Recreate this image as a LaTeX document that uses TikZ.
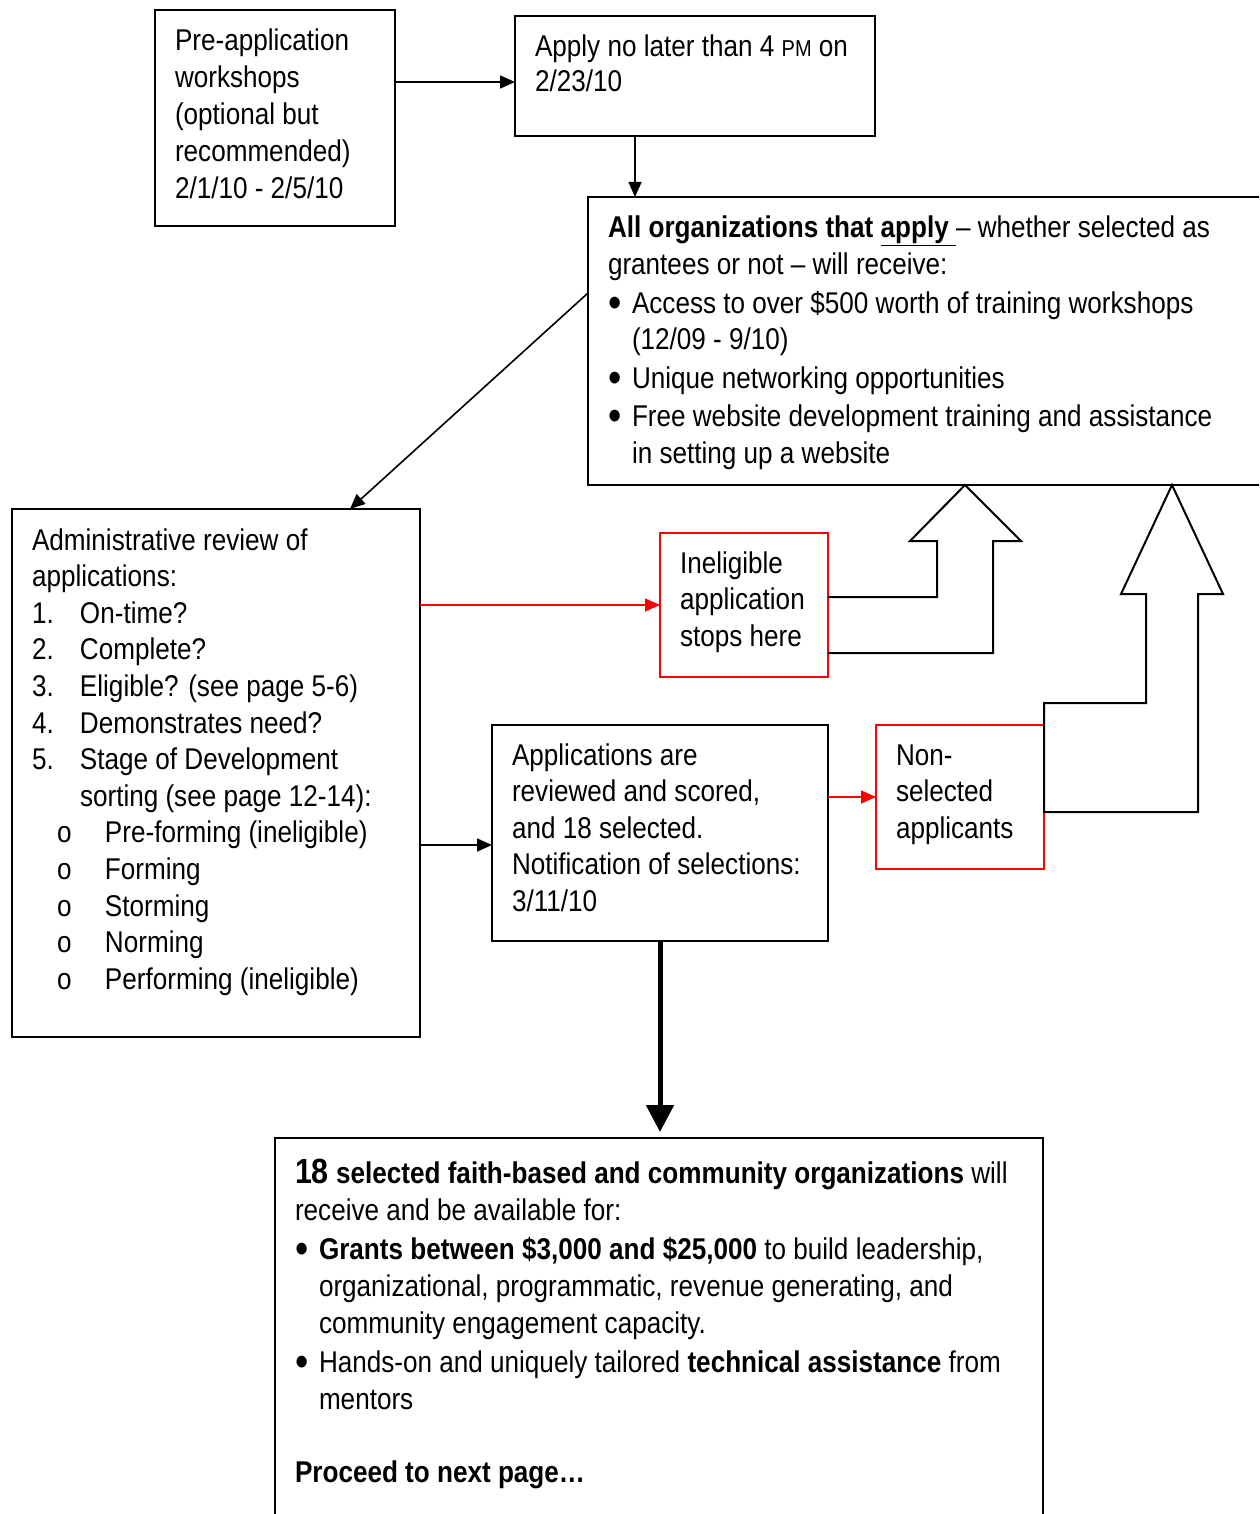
\documentclass[tikz,border=0pt]{standalone}
\usepackage{fontspec}
\setmainfont[FakeStretch=0.87]{Liberation Sans}
\usetikzlibrary{arrows.meta,calc}
\newcommand\fsz[1]{\fontsize{30}{#1}\selectfont}
\newcommand\bul{\makebox[24pt][l]{\smash{\raisebox{-4pt}{\scalebox{1.45}{\textbullet}}}}}
\newcommand\num[1]{\makebox[48pt][l]{#1}}
\newcommand\sub{\hspace*{25pt}\makebox[48pt][l]{o}}
\begin{document}
\begin{tikzpicture}[x=1pt,y=-1pt,
  box/.style={draw=black, line width=2pt, inner sep=0pt, outer sep=0pt, anchor=north west},
  rbox/.style={box, draw=red},
  txt/.style={anchor=base west, inner sep=0pt, outer sep=0pt},
  arr/.style={-{Triangle[length=15pt,width=13pt]}, line width=1.6pt},
  rarr/.style={arr, draw=red, fill=red},
  thick arr/.style={-{Triangle[length=27pt,width=27pt]}, line width=5pt},
  hol/.style={draw=black, line width=2pt, line join=miter}]
\clip (0,0) rectangle (1259,1514);
\fill[white] (0,0) rectangle (1259,1514);

% boxes
\node[box, minimum width=240pt, minimum height=216pt] (b1) at (155,10) {};
\node[box, minimum width=360pt, minimum height=120pt] (b2) at (515,16) {};
\node[box, minimum width=682pt, minimum height=288pt] (b3) at (588,197) {};
\node[box, minimum width=408pt, minimum height=528pt] (b4) at (12,509) {};
\node[rbox, minimum width=168pt, minimum height=144pt] (b5) at (660,533) {};
\node[box, minimum width=336pt, minimum height=216pt] (b6) at (492,725) {};
\node[rbox, minimum width=168pt, minimum height=144pt] (b7) at (876,725) {};
\node[box, minimum width=768pt, minimum height=400pt] (b8) at (275,1138) {};

% texts
\node[txt] (t1) at (175,51) {\parbox[t]{230pt}{\fsz{36.8}Pre-application\\workshops\\(optional but\\recommended)\\2/1/10 - 2/5/10}};
\node[txt] (t2) at (535,57) {\parbox[t]{340pt}{\fsz{35}Apply no later than 4 {\fontsize{23}{23}\selectfont PM} on\\2/23/10}};
\node[txt] (t3) at (608,238) {\parbox[t]{660pt}{\fsz{36.5}\textbf{All organizations that \underline{apply\ }}– whether selected as\\
grantees or not – will receive:\\[2pt]
\bul Access to over \$500 worth of training workshops\\
\hspace*{24pt}(12/09 - 9/10)\\[2pt]
\bul Unique networking opportunities\\[2pt]
\bul Free website development training and assistance\\
\hspace*{24pt}in setting up a website}};
\node[txt] (t4) at (32,550) {\parbox[t]{380pt}{\fsz{36.6}Administrative review of\\
applications:\\
\num{1.}On-time?\\
\num{2.}Complete?\\
\num{3.}Eligible? (see page 5-6)\\
\num{4.}Demonstrates need?\\
\num{5.}Stage of Development\\
\hspace*{48pt}sorting (see page 12-14):\\
\sub Pre-forming (ineligible)\\
\sub Forming\\
\sub Storming\\
\sub Norming\\
\sub Performing (ineligible)}};
\node[txt] (t5) at (680,573) {\parbox[t]{150pt}{\fsz{36.5}Ineligible\\application\\stops here}};
\node[txt] (t6) at (512,765) {\parbox[t]{320pt}{\fsz{36.5}Applications are\\reviewed and scored,\\and 18 selected.\\Notification of selections:\\3/11/10}};
\node[txt] (t7) at (896,765) {\parbox[t]{150pt}{\fsz{36.5}Non-\\selected\\applicants}};
\node[txt] (t8) at (295,1183) {\parbox[t]{740pt}{\fsz{37}\textbf{{\fontsize{35}{37}\selectfont 18} selected faith-based and community organizations} will\\
receive and be available for:\\[2pt]
\bul\textbf{Grants between \$3,000 and \$25,000} to build leadership,\\
\hspace*{24pt}organizational, programmatic, revenue generating, and\\
\hspace*{24pt}community engagement capacity.\\[2pt]
\bul Hands-on and uniquely tailored \textbf{technical assistance} from\\
\hspace*{24pt}mentors\\[36pt]
\textbf{Proceed to next page…}}};

% connectors
\draw[arr] ($(b1.north east)+(0,72)$) -- ($(b2.north west)+(0,66)$);
\draw[arr] ($(b2.south west)+(120,0)$) -- ($(b3.north west)+(47,0)$);
\draw[arr] ($(b3.north west)+(0,96)$) -- ($(b4.north west)+(338,0)$);
\draw[rarr] ($(b4.north east)+(0,96)$) -- ($(b5.north west)+(0,72)$);
\draw[arr] ($(b4.north east)+(0,336)$) -- ($(b6.north west)+(0,120)$);
\draw[rarr] ($(b6.north east)+(0,72)$) -- ($(b7.north west)+(0,72)$);
\draw[thick arr] ($(b6.south west)+(168,0)$) -- ($(b8.north west)+(385,-6)$);

% hollow block arrows
\draw[hol] ($(b5.north east)+(0,64)$) -- (937,597) -- (937,541) -- (910,541)
  -- ($(b3.south west)+(377,0)$) -- (1021,541) -- (993,541) -- (993,653)
  -- ($(b5.north east)+(0,120)$);
\draw[hol] ($(b7.north east)+(0,87)$) -- (1198,812) -- (1198,594) -- (1223,594)
  -- ($(b3.south west)+(584,0)$) -- (1121,594) -- (1146,594) -- (1146,703)
  -- ($(b7.north east)+(0,-22)$) -- cycle;
\end{tikzpicture}
\end{document}
